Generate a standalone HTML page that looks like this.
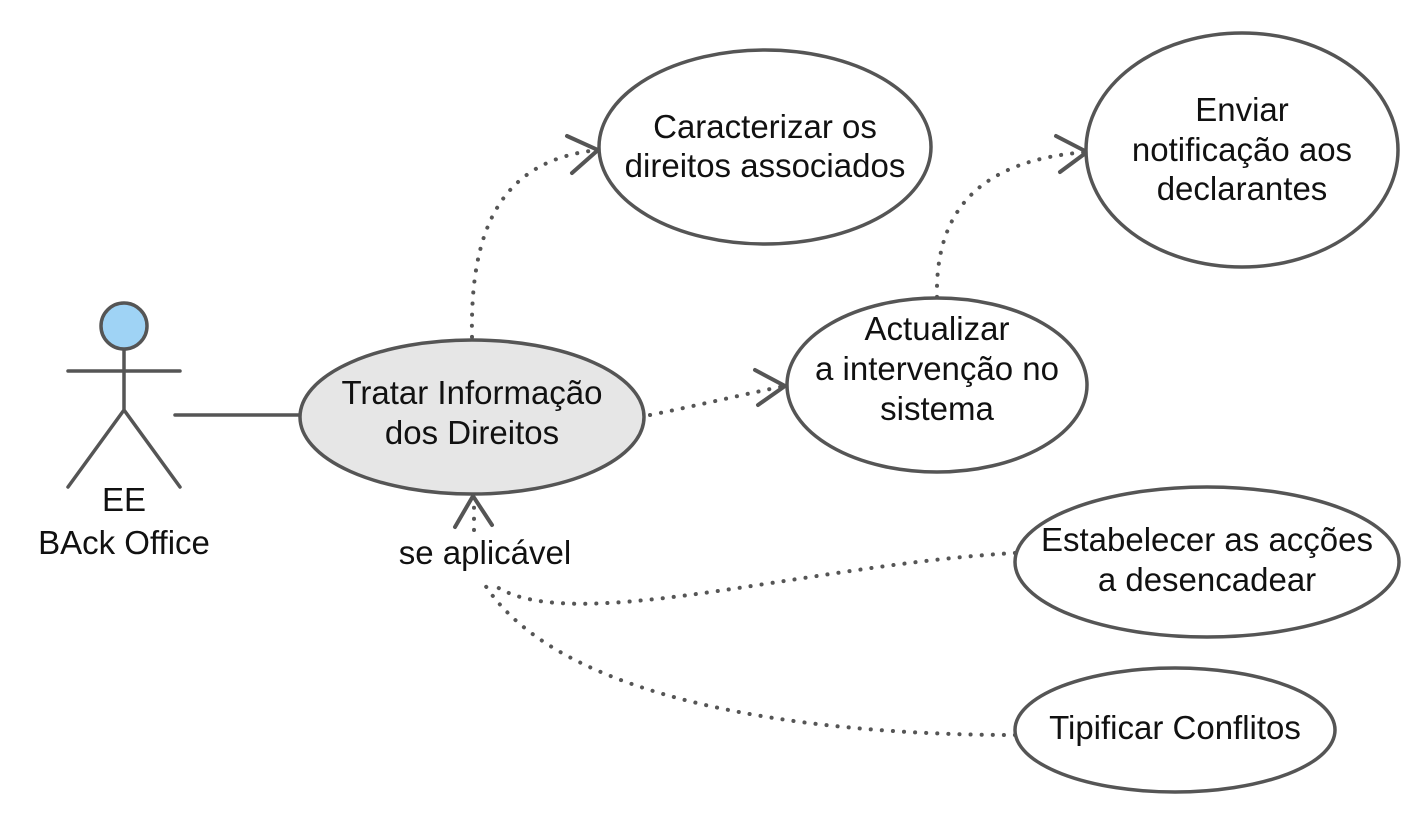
<!DOCTYPE html>
<html><head><meta charset="utf-8"><style>
html,body{margin:0;padding:0;background:#fff;}
svg text{font-family:"Liberation Sans",sans-serif;font-size:33px;fill:#111;text-anchor:middle;}
</style></head><body>
<svg width="1413" height="817" viewBox="0 0 1413 817" xmlns="http://www.w3.org/2000/svg">
<g fill="none" stroke="#555" stroke-width="3.5" stroke-linecap="round">
  <g stroke-dasharray="0.1 11" stroke-width="4">
    <path d="M472,337 C470,230 500,160 598,150"/>
    <path d="M650,415 C700,405 740,395 785,386"/>
    <path d="M937,297 C935,210 980,160 1087,152"/>
    <path d="M1015,553 C800,565 560,640 490,582"/>
    <path d="M1015,735 C800,735 560,700 485,585"/>
    <path d="M474,530 L474,500"/>
  </g>
  <path d="M567,136 L598,150 L572,173" stroke-width="4"/>
  <path d="M755,370 L785,386 L758,405" stroke-width="4"/>
  <path d="M1056,136 L1087,152 L1060,172" stroke-width="4"/>
  <path d="M455,527 L473,496 L492,525" stroke-width="4"/>
  <path d="M175,415 L300,415"/>
  <path d="M124,349 L124,410 M68,371 L180,371 M124,410 L68,487 M124,410 L180,487"/>
  <circle cx="124" cy="326" r="23" fill="#9fd3f5"/>
  <ellipse cx="472" cy="417" rx="172" ry="77" fill="#e6e6e6"/>
  <ellipse cx="765" cy="147" rx="166" ry="97" fill="#fff"/>
  <ellipse cx="1242" cy="150" rx="156" ry="117" fill="#fff"/>
  <ellipse cx="937" cy="385" rx="150" ry="87" fill="#fff"/>
  <ellipse cx="1207" cy="562" rx="192" ry="75" fill="#fff"/>
  <ellipse cx="1175" cy="730" rx="160" ry="62" fill="#fff"/>
</g>
<text x="124" y="511">EE</text>
<text x="124" y="554">BAck Office</text>
<text x="472" y="404">Tratar Informação</text>
<text x="472" y="444">dos Direitos</text>
<text x="765" y="138">Caracterizar os</text>
<text x="765" y="177">direitos associados</text>
<text x="1242" y="121">Enviar</text>
<text x="1242" y="161">notificação aos</text>
<text x="1242" y="200">declarantes</text>
<text x="937" y="340">Actualizar</text>
<text x="937" y="380">a intervenção no</text>
<text x="937" y="420">sistema</text>
<text x="1207" y="551">Estabelecer as acções</text>
<text x="1207" y="591">a desencadear</text>
<text x="1175" y="739">Tipificar Conflitos</text>
<text x="485" y="564">se aplicável</text>
</svg>
</body></html>
